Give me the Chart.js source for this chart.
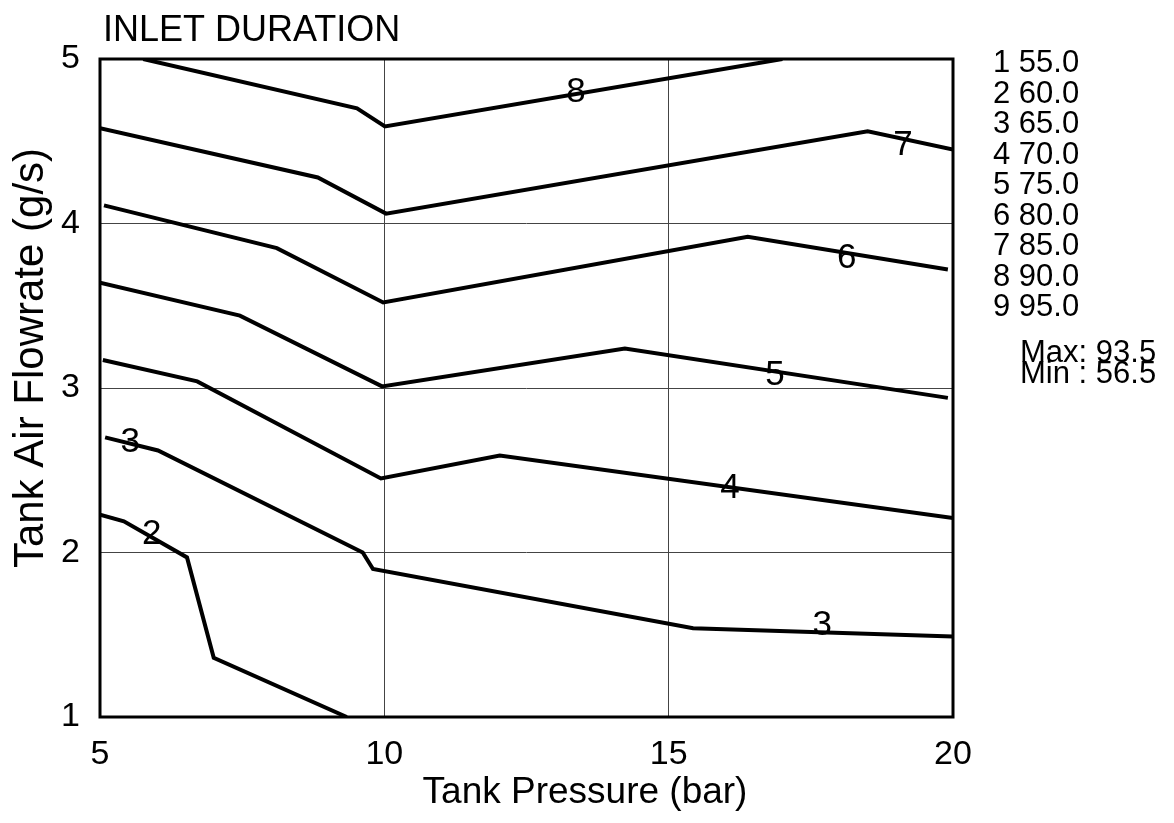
<!DOCTYPE html>
<html>
<head>
<meta charset="utf-8">
<script src="https://cdn.jsdelivr.net/npm/chart.js@4/dist/chart.umd.min.js"></script>
<style>
  html, body { margin: 0; padding: 0; background: #fff; overflow: hidden; }
  canvas { display: block; }
</style>
</head>
<body>
<canvas id="chart" width="1174" height="823"></canvas>
<script>
// contour lines of inlet duration (x = bar, y = g/s)
const line2X = [5.0, 5.42, 6.53, 7.0, 9.34];
const line2Y = [2.23, 2.19, 1.97, 1.36, 1.0];
const line3X = [5.09, 6.02, 9.62, 9.80, 15.43, 20.0];
const line3Y = [2.70, 2.62, 2.00, 1.90, 1.54, 1.49];
const line4X = [5.05, 6.71, 9.94, 12.03, 20.0];
const line4Y = [3.17, 3.04, 2.45, 2.59, 2.21];
const line5X = [5.0, 7.46, 9.96, 14.23, 19.91];
const line5Y = [3.64, 3.44, 3.01, 3.24, 2.94];
const line6X = [5.07, 8.11, 9.98, 16.39, 19.91];
const line6Y = [4.11, 3.85, 3.52, 3.92, 3.72];
const line7X = [5.0, 8.83, 10.03, 18.50, 20.0];
const line7Y = [4.58, 4.28, 4.06, 4.56, 4.45];
const line8X = [5.76, 9.52, 10.01, 17.0];
const line8Y = [5.0, 4.70, 4.59, 5.0];

// in-plot contour labels
const labelText = ['8', '7', '6', '5', '4', '3', '3', '2'];
const labelX = [13.37, 19.12, 18.13, 16.87, 16.08, 5.53, 17.70, 5.91];
const labelY = [4.81, 4.49, 3.80, 3.09, 2.40, 2.68, 1.57, 2.12];

// legend on the right
const levelNum = [1, 2, 3, 4, 5, 6, 7, 8, 9];
const levelVal = ['55.0', '60.0', '65.0', '70.0', '75.0', '80.0', '85.0', '90.0', '95.0'];
const maxVal = '93.5';
const minVal = '56.5';

const xTicks = [5, 10, 15, 20];
const yTicks = [1, 2, 3, 4, 5];

const FONT = '"Liberation Sans", Arial, sans-serif';

const toPts = (xs, ys) => xs.map((x, i) => ({ x, y: ys[i] }));
const lines = [
  [line2X, line2Y], [line3X, line3Y], [line4X, line4Y], [line5X, line5Y],
  [line6X, line6Y], [line7X, line7Y], [line8X, line8Y]
];

const decorPlugin = {
  id: 'decor',
  afterDatasetsDraw(chart) {
    const { ctx, chartArea: a, scales } = chart;
    ctx.save();
    // contour labels
    ctx.fillStyle = '#000';
    ctx.font = '35px ' + FONT;
    ctx.textAlign = 'center';
    ctx.textBaseline = 'middle';
    labelText.forEach((t, i) => {
      ctx.fillText(t, scales.x.getPixelForValue(labelX[i]), scales.y.getPixelForValue(labelY[i]) + 2);
    });
    // frame
    ctx.lineWidth = 3;
    ctx.strokeStyle = '#000';
    ctx.strokeRect(a.left, a.top, a.right - a.left, a.bottom - a.top);
    // title
    ctx.textAlign = 'left';
    ctx.textBaseline = 'alphabetic';
    ctx.font = '36px ' + FONT;
    ctx.fillText('INLET DURATION', 103, 41);
    // legend
    ctx.font = '31px ' + FONT;
    levelNum.forEach((n, i) => {
      ctx.fillText(n + ' ' + levelVal[i], 993, 72 + i * 30.5);
    });
    ctx.fillText('Max: ' + maxVal, 1020, 362);
    ctx.fillText('Min : ' + minVal, 1020, 383);
    // axis titles
    ctx.textAlign = 'center';
    ctx.font = '37px ' + FONT;
    ctx.fillText('Tank Pressure (bar)', 585, 803);
    ctx.translate(43, 358);
    ctx.rotate(-Math.PI / 2);
    ctx.font = '42px ' + FONT;
    ctx.fillText('Tank Air Flowrate (g/s)', 0, 0);
    ctx.restore();
  }
};

new Chart(document.getElementById('chart'), {
  type: 'line',
  data: {
    datasets: lines.map(([xs, ys]) => ({
      data: toPts(xs, ys),
      borderColor: '#000',
      borderWidth: 4,
      borderJoinStyle: 'miter',
      pointRadius: 0,
      tension: 0,
      fill: false
    }))
  },
  options: {
    responsive: false,
    animation: false,
    events: [],
    layout: { padding: { left: 0, top: 59, right: 221, bottom: 0 } },
    plugins: { legend: { display: false }, tooltip: { enabled: false } },
    scales: {
      x: {
        type: 'linear',
        min: 5, max: 20,
        afterBuildTicks: s => { s.ticks = xTicks.map(v => ({ value: v })); },
        afterFit: s => { s.height = 106; },
        grid: { color: '#444', lineWidth: 1, drawTicks: false },
        border: { display: false },
        ticks: { color: '#000', padding: 17, maxRotation: 0, font: { family: FONT, size: 34 } }
      },
      y: {
        type: 'linear',
        min: 1, max: 5,
        afterBuildTicks: s => { s.ticks = yTicks.map(v => ({ value: v })); },
        afterFit: s => { s.width = 100; },
        grid: { color: '#444', lineWidth: 1, drawTicks: false },
        border: { display: false },
        ticks: { color: '#000', padding: 20, font: { family: FONT, size: 34 } }
      }
    }
  },
  plugins: [decorPlugin]
});
</script>
</body>
</html>
